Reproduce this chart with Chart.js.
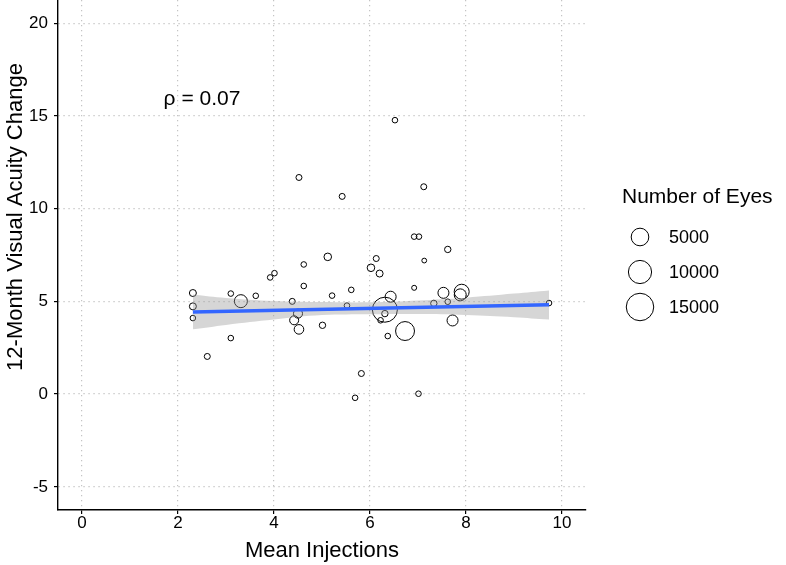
<!DOCTYPE html>
<html>
<head>
<meta charset="utf-8">
<script src="https://cdn.jsdelivr.net/npm/chart.js@4.4.1/dist/chart.umd.min.js"></script>
<style>
  html, body { margin: 0; padding: 0; background: #fff; }
  #wrap { width: 786px; height: 565px; }
</style>
</head>
<body>
<div id="wrap"><canvas id="myChart" width="786" height="565"></canvas></div>
<script>
// studies: mean injections, 12-month VA change, number of eyes
const meanInjections = [2.31, 2.31, 2.31, 3.10, 3.31, 3.62, 3.10, 2.61, 3.92, 4.01,
	4.52, 4.62, 4.62, 4.38, 4.50, 4.42, 4.52, 5.01, 5.12, 5.21,
	5.42, 5.52, 5.61, 5.82, 5.69, 6.02, 6.13, 6.20, 6.52, 6.43,
	6.31, 6.31, 6.22, 6.73, 6.37, 6.92, 6.92, 7.02, 7.12, 7.13,
	7.01, 7.33, 7.53, 7.62, 7.62, 7.91, 7.88, 7.72, 9.73];
const vaChange = [5.45, 4.73, 4.10, 5.42, 5.01, 5.30, 3.02, 2.03, 6.29, 6.52,
	11.68, 6.99, 5.83, 5.00, 4.34, 3.98, 3.49, 3.71, 7.40, 5.31,
	10.66, 4.77, 5.62, 1.11, -0.20, 6.81, 7.31, 6.50, 14.77, 5.25,
	4.55, 4.34, 3.98, 3.40, 3.13, 5.73, 8.49, 8.49, 11.18, 7.20,
	0.02, 4.89, 5.46, 4.98, 7.80, 5.52, 5.35, 3.97, 4.91];
const numEyes = [217, 217, 54, 54, 2150, 54, 54, 90, 54, 54,
	90, 54, 54, 90, 640, 640, 810, 135, 320, 54,
	90, 54, 54, 90, 54, 320, 90, 217, 54, 1280,
	12000, 135, 54, 6000, 54, 18, 54, 54, 90, 10,
	54, 135, 1280, 54, 135, 3230, 1690, 1280, 54];

// linear fit and its confidence band
const fitX = [2.31, 9.73];
const fitY = [4.43, 4.82];
const bandX = [2.31, 3, 4, 5, 6, 7, 8, 9, 9.73];
const bandUpper = [5.37, 5.18, 5.02, 4.96, 4.95, 5.05, 5.20, 5.42, 5.59];
const bandLower = [3.49, 3.73, 4.02, 4.26, 4.31, 4.32, 4.27, 4.15, 4.02];

const xTicks = [0, 2, 4, 6, 8, 10];
const yTicks = [-5, 0, 5, 10, 15, 20];
const legendSizes = [5000, 10000, 15000];
const rhoLabel = "\u03C1 = 0.07";

const FONT = "'Liberation Sans', Arial, sans-serif";

// size scale: eyes -> outer radius in px
const sizeFor = (n) => 2.6 + 0.095 * Math.sqrt(n);

const pts = meanInjections.map((x, i) => ({ x: x, y: vaChange[i] }));
const toXY = (xs, ys) => xs.map((x, i) => ({ x: x, y: ys[i] }));

const textPlugin = {
	id: 'texts',
	afterDraw(chart) {
		const ctx = chart.ctx;
		const xs = chart.scales.x, ys = chart.scales.y;
		const area = chart.chartArea;
		ctx.save();
		ctx.fillStyle = '#000';

		// rho annotation
		ctx.font = '21px ' + FONT;
		ctx.textAlign = 'center';
		ctx.textBaseline = 'middle';
		ctx.fillText(rhoLabel, xs.getPixelForValue(2.5), ys.getPixelForValue(15.9));

		// x title
		ctx.font = '22px ' + FONT;
		ctx.fillText('Mean Injections', (area.left + area.right) / 2, 551);

		// y title
		ctx.save();
		ctx.translate(16, 217);
		ctx.rotate(-Math.PI / 2);
		ctx.fillText('12-Month Visual Acuity Change', 0, 0);
		ctx.restore();

		// legend
		ctx.textAlign = 'left';
		ctx.font = '21px ' + FONT;
		ctx.fillText('Number of Eyes', 622, 197);
		ctx.font = '18px ' + FONT;
		const rowY = [237, 272, 307];
		legendSizes.forEach((n, i) => {
			ctx.beginPath();
			ctx.arc(640, rowY[i], sizeFor(n) - 0.5, 0, Math.PI * 2);
			ctx.lineWidth = 1;
			ctx.strokeStyle = '#000';
			ctx.stroke();
			ctx.fillText(String(n), 669, rowY[i] + 1);
		});
		ctx.restore();
	}
};

const ctx = document.getElementById('myChart').getContext('2d');
new Chart(ctx, {
	type: 'scatter',
	data: {
		datasets: [
			{
				type: 'line',
				data: toXY(fitX, fitY),
				borderColor: '#3366FF',
				borderWidth: 3.5,
				pointRadius: 0,
				fill: false,
				order: 0
			},
			{
				type: 'line',
				data: toXY(bandX, bandUpper),
				borderWidth: 0,
				borderColor: 'rgba(0,0,0,0)',
				backgroundColor: 'rgba(153,153,153,0.4)',
				pointRadius: 0,
				tension: 0.4,
				fill: '+1',
				order: 1
			},
			{
				type: 'line',
				data: toXY(bandX, bandLower),
				borderWidth: 0,
				borderColor: 'rgba(0,0,0,0)',
				pointRadius: 0,
				tension: 0.4,
				fill: false,
				order: 1
			},
			{
				data: pts,
				pointRadius: numEyes.map(n => sizeFor(n) - 0.5),
				pointBackgroundColor: 'rgba(0,0,0,0)',
				pointBorderColor: '#000',
				pointBorderWidth: 1,
				order: 2
			}
		]
	},
	options: {
		responsive: false,
		animation: false,
		events: [],
		layout: { autoPadding: false, padding: { top: 0, right: 200, bottom: 0, left: 0 } },
		plugins: {
			legend: { display: false },
			tooltip: { enabled: false }
		},
		scales: {
			x: {
				type: 'linear',
				min: -0.5,
				max: 10.5,
				afterFit: (s) => { s.height = 55; s.paddingLeft = 0; s.paddingRight = 0; },
				afterBuildTicks: (s) => { s.ticks = xTicks.map(v => ({ value: v })); },
				grid: {
					color: '#c4c4c4',
					lineWidth: 1.2,
					tickLength: 4,
					tickColor: '#000',
					tickWidth: 1.2,
					tickBorderDash: []
				},
				border: { display: true, color: '#000', width: 1.4, dash: [1.3, 3.7] },
				ticks: {
					color: '#000',
					padding: 1,
					maxRotation: 0,
					font: { family: FONT, size: 17, lineHeight: 1 }
				}
			},
			y: {
				type: 'linear',
				min: -6.25,
				max: 21.25,
				afterFit: (s) => { s.width = 58; s.paddingTop = 0; s.paddingBottom = 0; },
				afterBuildTicks: (s) => { s.ticks = yTicks.map(v => ({ value: v })); },
				grid: {
					color: '#c4c4c4',
					lineWidth: 1.2,
					tickLength: 4,
					tickColor: '#000',
					tickWidth: 1.2,
					tickBorderDash: []
				},
				border: { display: true, color: '#000', width: 1.4, dash: [1.3, 3.7] },
				ticks: {
					color: '#000',
					padding: 6,
					font: { family: FONT, size: 17 }
				}
			}
		}
	},
	plugins: [textPlugin]
});
</script>
</body>
</html>
